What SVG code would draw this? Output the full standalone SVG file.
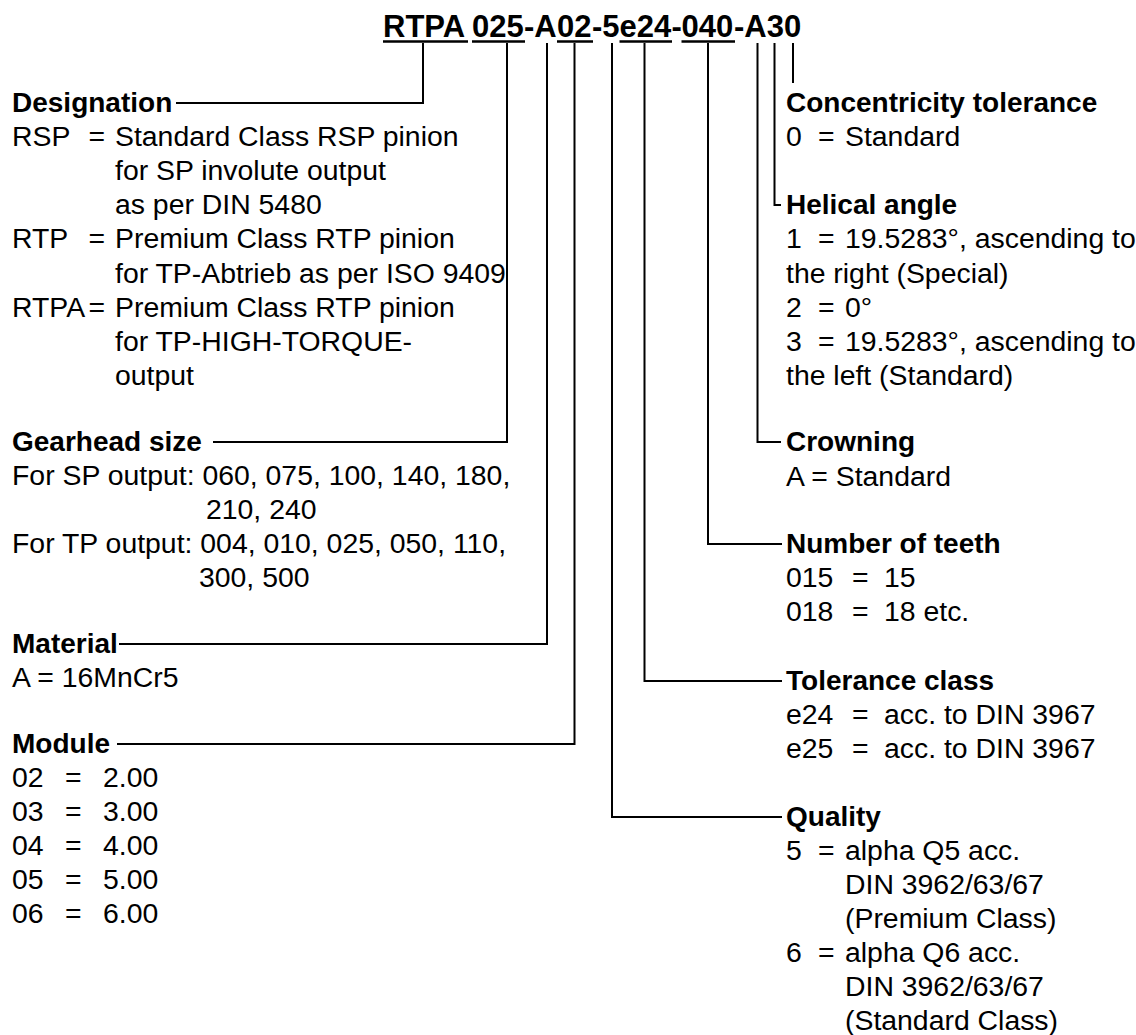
<svg xmlns="http://www.w3.org/2000/svg" width="1136" height="1035" viewBox="0 0 1136 1035">
<style>
text{font-family:"Liberation Sans",Arial,Helvetica,sans-serif;font-size:28.4px;fill:#000}
.h{font-weight:bold;font-size:28px}
.t{font-weight:bold;font-size:31px}
.c{fill:none;stroke:#000;stroke-width:2}
.u{stroke:#000;stroke-width:2.6}
</style>
<rect width="1136" height="1035" fill="#fff"/>
<g id="title">
<text class="t" y="37"><tspan x="383">RTPA</tspan><tspan x="472">025</tspan><tspan x="524">-A</tspan><tspan x="557">02</tspan><tspan x="592">-5</tspan><tspan x="619.5">e24</tspan><tspan x="671.5">-</tspan><tspan x="681.5">040</tspan><tspan x="734">-A30</tspan></text>
<line class="u" x1="383" y1="41.5" x2="468" y2="41.5"/>
<line class="u" x1="472" y1="41.5" x2="525" y2="41.5"/>
<line class="u" x1="557" y1="41.5" x2="593" y2="41.5"/>
<line class="u" x1="619.5" y1="41.5" x2="672" y2="41.5"/>
<line class="u" x1="681.5" y1="41.5" x2="735" y2="41.5"/>
</g>
<g id="connectors">
<polyline class="c" points="423,43 423,103 176,103"/>
<polyline class="c" points="507,43 507,442 213,442"/>
<polyline class="c" points="547,43 547,644 119,644"/>
<polyline class="c" points="574.5,43 574.5,744 117,744"/>
<polyline class="c" points="612,43 612,817 782,817"/>
<polyline class="c" points="644.5,43 644.5,681 782,681"/>
<polyline class="c" points="708,43 708,544 782,544"/>
<polyline class="c" points="757.5,43 757.5,442 781,442"/>
<polyline class="c" points="774.5,43 774.5,205 781,205"/>
<polyline class="c" points="793,43 793,83"/>
</g>
<g id="designation">
<text class="h" x="12" y="112">Designation</text>
<text x="12" y="146">RSP</text><text x="88.5" y="146">=</text><text x="115" y="146">Standard Class RSP pinion</text>
<text x="115" y="180">for SP involute output</text>
<text x="115" y="214">as per DIN 5480</text>
<text x="12" y="248">RTP</text><text x="88.5" y="248">=</text><text x="115" y="248">Premium Class RTP pinion</text>
<text x="115" y="283">for TP-Abtrieb as per ISO 9409</text>
<text x="12" y="317">RTPA</text><text x="88.5" y="317">=</text><text x="115" y="317">Premium Class RTP pinion</text>
<text x="115" y="351">for TP-HIGH-TORQUE-</text>
<text x="115" y="385">output</text>
</g>
<g id="gearhead-size">
<text class="h" x="12" y="451">Gearhead size</text>
<text x="12" y="485">For SP output: 060, 075, 100, 140, 180,</text>
<text x="206" y="519">210, 240</text>
<text x="12" y="553">For TP output: 004, 010, 025, 050, 110,</text>
<text x="199" y="587">300, 500</text>
</g>
<g id="material">
<text class="h" x="12" y="653">Material</text>
<text x="12" y="687">A = 16MnCr5</text>
</g>
<g id="module">
<text class="h" x="12" y="753">Module</text>
<text x="12" y="787">02</text><text x="65" y="787">=</text><text x="103" y="787">2.00</text>
<text x="12" y="821">03</text><text x="65" y="821">=</text><text x="103" y="821">3.00</text>
<text x="12" y="855">04</text><text x="65" y="855">=</text><text x="103" y="855">4.00</text>
<text x="12" y="889">05</text><text x="65" y="889">=</text><text x="103" y="889">5.00</text>
<text x="12" y="923">06</text><text x="65" y="923">=</text><text x="103" y="923">6.00</text>
</g>
<g id="concentricity">
<text class="h" x="786" y="112">Concentricity tolerance</text>
<text x="786" y="146">0</text><text x="818" y="146">=</text><text x="845" y="146">Standard</text>
</g>
<g id="helical-angle">
<text class="h" x="786" y="214">Helical angle</text>
<text x="786" y="248">1</text><text x="818" y="248">=</text><text x="845" y="248">19.5283°, ascending to</text>
<text x="786" y="283">the right (Special)</text>
<text x="786" y="317">2</text><text x="818" y="317">=</text><text x="845" y="317">0°</text>
<text x="786" y="351">3</text><text x="818" y="351">=</text><text x="845" y="351">19.5283°, ascending to</text>
<text x="786" y="385">the left (Standard)</text>
</g>
<g id="crowning">
<text class="h" x="786" y="451">Crowning</text>
<text x="786" y="486">A = Standard</text>
</g>
<g id="number-of-teeth">
<text class="h" x="786" y="553">Number of teeth</text>
<text x="786" y="587">015</text><text x="852" y="587">=</text><text x="884" y="587">15</text>
<text x="786" y="621">018</text><text x="852" y="621">=</text><text x="884" y="621">18 etc.</text>
</g>
<g id="tolerance-class">
<text class="h" x="786" y="690">Tolerance class</text>
<text x="786" y="724">e24</text><text x="852" y="724">=</text><text x="884" y="724">acc. to DIN 3967</text>
<text x="786" y="758">e25</text><text x="852" y="758">=</text><text x="884" y="758">acc. to DIN 3967</text>
</g>
<g id="quality">
<text class="h" x="786" y="826">Quality</text>
<text x="786" y="860">5</text><text x="818" y="860">=</text><text x="845" y="860">alpha Q5 acc.</text>
<text x="845" y="894">DIN 3962/63/67</text>
<text x="845" y="928">(Premium Class)</text>
<text x="786" y="962">6</text><text x="818" y="962">=</text><text x="845" y="962">alpha Q6 acc.</text>
<text x="845" y="996">DIN 3962/63/67</text>
<text x="845" y="1030">(Standard Class)</text>
</g>
</svg>
